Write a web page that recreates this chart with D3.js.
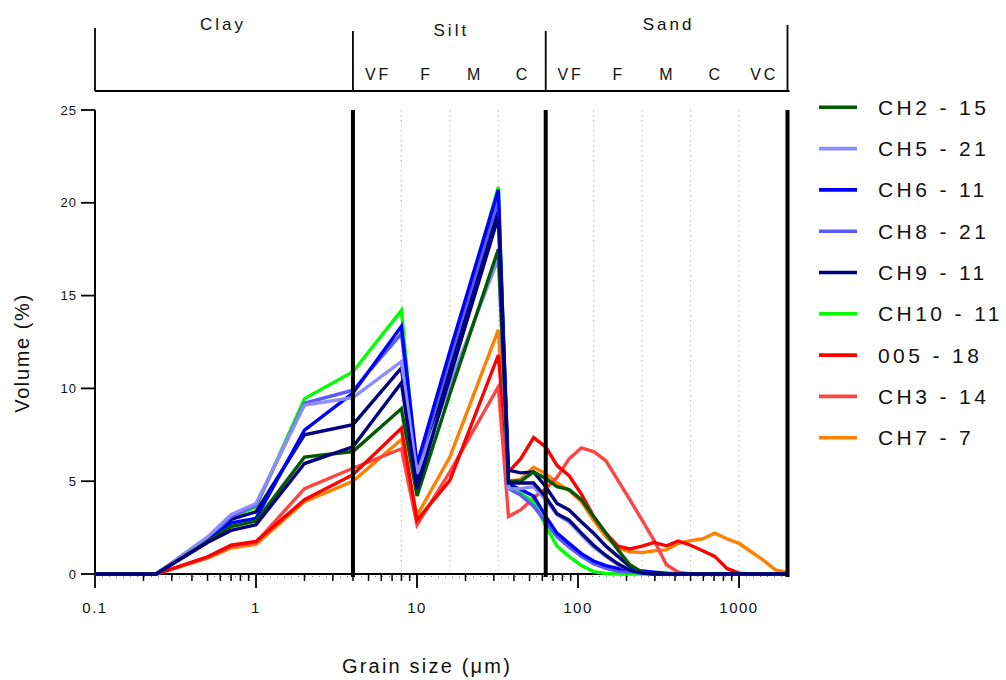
<!DOCTYPE html>
<html>
<head>
<meta charset="utf-8">
<script src="https://cdn.jsdelivr.net/npm/d3@7"></script>
<style>
  html, body { margin: 0; padding: 0; background: #fff; }
  svg { display: block; font-family: "Liberation Sans", Arial, sans-serif; }
</style>
</head>
<body>
<svg id="chart" width="1006" height="680"></svg>
<script>
// Grain size classes (µm) at which each volume value is measured
const grainSizes = [0.1, 0.24, 0.5, 0.7, 1, 2, 4, 8, 10, 16, 32, 37, 44, 53, 63, 74, 88, 105, 125, 149,
  177, 210, 250, 297, 354, 420, 500, 595, 707, 841, 1000, 1189, 1414, 1682, 2000];

// Volume (%) per sample, one value per grain size class
const ch2_15  = [0, 0, 1.75, 2.55, 2.85, 6.3, 6.6, 8.9, 4.2, 9.7, 17.5, 5.0, 5.0, 5.5, 5.15, 4.7, 4.55, 4.0, 3.1, 2.2,
  1.3, 0.5, 0.1, 0, 0, 0, 0, 0, 0, 0, 0, 0, 0, 0, 0];
const ch5_21  = [0, 0, 2.0, 3.2, 3.8, 9.1, 9.5, 11.45, 5.4, 10.2, 17.0, 4.6, 4.6, 4.7, 4.0, 3.2, 2.8, 2.1, 1.45, 0.95,
  0.5, 0.2, 0.05, 0, 0, 0, 0, 0, 0, 0, 0, 0, 0, 0, 0];
const ch6_11  = [0, 0, 1.8, 2.75, 3.0, 7.75, 9.75, 13.35, 5.9, 12.0, 20.7, 4.85, 4.55, 4.2, 3.1, 2.2, 1.65, 1.1, 0.7, 0.45,
  0.3, 0.22, 0.16, 0.1, 0.05, 0, 0, 0, 0, 0, 0, 0, 0, 0, 0];
const ch8_21  = [0, 0, 1.9, 3.1, 3.7, 9.2, 9.9, 12.95, 5.6, 11.6, 20.15, 4.6, 4.25, 3.65, 2.8, 2.0, 1.45, 0.95, 0.55, 0.3,
  0.15, 0.1, 0.05, 0, 0, 0, 0, 0, 0, 0, 0, 0, 0, 0, 0];
const ch9_11  = [0, 0, 1.85, 2.95, 3.35, 7.5, 8.05, 11.1, 4.9, 11.0, 19.8, 5.6, 5.45, 5.5, 4.7, 3.8, 3.45, 2.8, 2.2, 1.5,
  0.95, 0.4, 0.1, 0, 0, 0, 0, 0, 0, 0, 0, 0, 0, 0, 0];
const ch9_11b = [0, 0, 1.7, 2.35, 2.65, 5.95, 6.85, 10.3, 4.6, 10.6, 19.25, 4.9, 4.9, 4.9, 4.15, 3.25, 2.9, 2.2, 1.55, 1.0,
  0.55, 0.2, 0.05, 0, 0, 0, 0, 0, 0, 0, 0, 0, 0, 0, 0];
const ch10_11 = [0, 0, 1.9, 3.05, 3.6, 9.45, 10.9, 14.2, 5.2, 11.6, 20.85, 4.6, 4.35, 3.9, 2.6, 1.5, 0.95, 0.45, 0.13, 0.03,
  0, 0, 0, 0, 0, 0, 0, 0, 0, 0, 0, 0, 0, 0, 0];
const s005_18 = [0, 0, 0.93, 1.55, 1.75, 4.0, 5.35, 7.85, 2.9, 5.05, 11.8, 5.5, 6.2, 7.35, 6.85, 5.85, 5.3, 4.3, 3.1, 2.2,
  1.5, 1.35, 1.5, 1.7, 1.52, 1.78, 1.55, 1.25, 0.95, 0.3, 0.05, 0, 0, 0, 0];
const ch3_14  = [0, 0, 0.9, 1.5, 1.7, 4.6, 5.7, 6.75, 2.65, 5.5, 10.1, 3.1, 3.45, 4.1, 4.6, 5.2, 6.2, 6.8, 6.6, 6.1,
  5.05, 4.0, 2.9, 1.8, 0.5, 0.1, 0, 0, 0, 0, 0, 0, 0, 0, 0];
const ch7_7   = [0, 0, 0.85, 1.4, 1.6, 3.9, 5.0, 7.25, 3.15, 6.3, 13.15, 5.0, 5.1, 5.75, 5.4, 4.9, 4.5, 3.9, 2.9, 2.0,
  1.4, 1.2, 1.15, 1.25, 1.3, 1.65, 1.8, 1.9, 2.2, 1.9, 1.65, 1.2, 0.75, 0.22, 0.08];

// Legend entries, in legend order
const legendNames  = ["CH2 - 15", "CH5 - 21", "CH6 - 11", "CH8 - 21", "CH9 - 11", "CH10 - 11", "005 - 18", "CH3 - 14", "CH7 - 7"];
const legendColors = ["#005a00", "#8c8cff", "#0000ff", "#5a5aff", "#000080", "#00ff00", "#ff0000", "#ff4444", "#ff8000"];
const legendValues = [ch2_15, ch5_21, ch6_11, ch8_21, ch9_11, ch10_11, s005_18, ch3_14, ch7_7];

// Axis ticks
const xTickValues = [0.1, 1, 10, 100, 1000];
const xTickLabels = ["0.1", "1", "10", "100", "1000"];
const yTickValues = [0, 5, 10, 15, 20, 25];

// Size class boundaries (µm)
const classBounds = [0.1, 4, 63, 2000];
const classNames = ["Clay", "Silt", "Sand"];
const siltSub = [[4, 8, "VF"], [8, 16, "F"], [16, 32, "M"], [32, 63, "C"]];
const sandSub = [[63, 125, "VF"], [125, 250, "F"], [250, 500, "M"], [500, 1000, "C"], [1000, 2000, "VC"]];
const subGridLines = [8, 16, 32, 125, 250, 500, 1000];

const svg = d3.select("#chart");
const x = d3.scaleLog().domain([0.1, 2000]).range([95, 787.5]);
const y = d3.scaleLinear().domain([0, 25]).range([574, 110]);
const geoMid = (a, b) => Math.sqrt(a * b);

// Dotted sub-class grid lines
svg.append("g").selectAll("line").data(subGridLines).join("line")
  .attr("x1", d => x(d)).attr("x2", d => x(d))
  .attr("y1", y(25)).attr("y2", y(0))
  .attr("stroke", "#c8c8c8").attr("stroke-width", 1.2).attr("stroke-dasharray", "1.5,3.5");

// Axes
const xAxisG = svg.append("g");
xAxisG.append("line").attr("x1", x(0.1)).attr("x2", x(2000)).attr("y1", y(0)).attr("y2", y(0))
  .attr("stroke", "#000").attr("stroke-width", 2);
xAxisG.append("line").attr("x1", x(0.1)).attr("x2", x(2000)).attr("y1", y(0) + 2.5).attr("y2", y(0) + 2.5)
  .attr("stroke", "#777").attr("stroke-width", 1).attr("stroke-dasharray", "1,6");
const minorX = [];
for (let e = -1; e <= 3; e++) for (let m = 2; m <= 9; m++) { const v = m * Math.pow(10, e); if (v < 2000) minorX.push(v); }
xAxisG.selectAll("line.minor").data(minorX).join("line").attr("class", "minor")
  .attr("x1", d => x(d)).attr("x2", d => x(d)).attr("y1", y(0)).attr("y2", y(0) + 7)
  .attr("stroke", "#000").attr("stroke-width", 1.5);
xAxisG.selectAll("line.major").data(xTickValues).join("line").attr("class", "major")
  .attr("x1", d => x(d)).attr("x2", d => x(d)).attr("y1", y(0)).attr("y2", y(0) + 14)
  .attr("stroke", "#000").attr("stroke-width", 1.8);
xAxisG.selectAll("text").data(xTickValues).join("text")
  .attr("x", d => x(d)).attr("y", 613).attr("text-anchor", "middle")
  .attr("font-size", 15).attr("letter-spacing", 1.5).attr("fill", "#111")
  .text((d, i) => xTickLabels[i]);

const yAxisG = svg.append("g");
yAxisG.append("line").attr("x1", 95).attr("x2", 95).attr("y1", y(25)).attr("y2", y(0))
  .attr("stroke", "#000").attr("stroke-width", 2);
yAxisG.selectAll("line.tick").data(yTickValues).join("line").attr("class", "tick")
  .attr("x1", 81).attr("x2", 95).attr("y1", d => y(d)).attr("y2", d => y(d))
  .attr("stroke", "#000").attr("stroke-width", 1.8);
yAxisG.selectAll("text").data(yTickValues).join("text")
  .attr("x", 77).attr("y", d => y(d)).attr("dy", "0.36em").attr("text-anchor", "end")
  .attr("font-size", 13).attr("letter-spacing", 1).attr("fill", "#111").text(d => d);

// Axis titles
svg.append("text").attr("x", 427).attr("y", 673).attr("text-anchor", "middle")
  .attr("font-size", 20).attr("letter-spacing", 2.2).attr("fill", "#111").text("Grain size (μm)");
svg.append("text").attr("transform", "translate(29,353) rotate(-90)").attr("text-anchor", "middle")
  .attr("font-size", 20).attr("letter-spacing", 1.6).attr("fill", "#111").text("Volume (%)");

// Sample curves (drawn in reverse legend order, second CH9 trace last)
const line = d3.line().x((d, i) => x(grainSizes[i])).y(d => y(d));
const drawOrder = [8, 7, 6, 5, 4, 3, 2, 1, 0].map(i => ({ values: legendValues[i], color: legendColors[i] }));
drawOrder.push({ values: ch9_11b, color: legendColors[4] });
svg.append("g").selectAll("path").data(drawOrder).join("path")
  .attr("d", d => line(d.values)).attr("fill", "none")
  .attr("stroke", d => d.color).attr("stroke-width", 3.4).attr("stroke-linejoin", "miter");

// Class boundary lines
svg.append("g").selectAll("line").data(classBounds.slice(1)).join("line")
  .attr("x1", d => x(d)).attr("x2", d => x(d)).attr("y1", y(25)).attr("y2", y(0) + 3)
  .attr("stroke", "#000").attr("stroke-width", 4);

// Size class header
const hdr = svg.append("g");
const hdrBottom = 91;
const hdrTops = [28, 31, 31, 25];
hdr.append("line").attr("x1", x(0.1)).attr("x2", x(2000) + 2).attr("y1", hdrBottom).attr("y2", hdrBottom)
  .attr("stroke", "#000").attr("stroke-width", 2);
hdr.selectAll("line.div").data(classBounds).join("line").attr("class", "div")
  .attr("x1", d => x(d)).attr("x2", d => x(d))
  .attr("y1", (d, i) => hdrTops[i]).attr("y2", hdrBottom)
  .attr("stroke", "#000").attr("stroke-width", 1.8);
hdr.selectAll("text.cls").data(classNames).join("text").attr("class", "cls")
  .attr("x", (d, i) => x(geoMid(classBounds[i], classBounds[i + 1])) + (i === 0 ? -1 : 2))
  .attr("y", (d, i) => i === 1 ? 36 : 30).attr("text-anchor", "middle")
  .attr("font-size", 17).attr("letter-spacing", 3).attr("fill", "#111").text(d => d);
hdr.selectAll("text.sub").data(siltSub.concat(sandSub)).join("text").attr("class", "sub")
  .attr("x", d => x(geoMid(d[0], d[1])) + 1).attr("y", 80).attr("text-anchor", "middle")
  .attr("font-size", 16).attr("letter-spacing", 3).attr("fill", "#111").text(d => d[2]);

// Legend
const leg = svg.append("g");
const rows = leg.selectAll("g").data(legendNames).join("g")
  .attr("transform", (d, i) => `translate(0,${107.3 + i * 41.3})`);
rows.append("line").attr("x1", 819).attr("x2", 857).attr("y1", 0).attr("y2", 0)
  .attr("stroke", (d, i) => legendColors[i]).attr("stroke-width", 3.6);
rows.append("text").attr("x", 878).attr("y", 0).attr("dy", "0.36em")
  .attr("font-size", 21).attr("letter-spacing", 3.4).attr("fill", "#111").text(d => d);
</script>
</body>
</html>
